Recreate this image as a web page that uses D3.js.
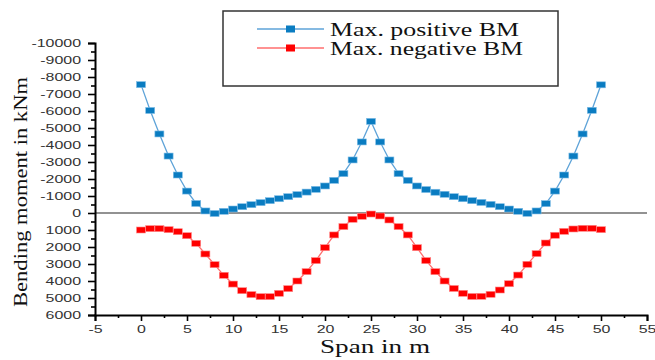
<!DOCTYPE html>
<html>
<head>
<meta charset="utf-8">
<script src="https://cdn.jsdelivr.net/npm/d3@7"></script>
<style>
  html, body { margin: 0; padding: 0; background: #fff; }
  svg { display: block; }
</style>
</head>
<body>
<svg id="chart" width="655" height="360"></svg>
<script>
// Span positions along the girder (m)
const span = [0, 1, 2, 3, 4, 5, 6, 7, 8, 9, 10, 11, 12, 13, 14, 15, 16, 17, 18, 19, 20,
  21, 22, 23, 24, 25, 26, 27, 28, 29, 30, 31, 32, 33, 34, 35, 36, 37, 38, 39, 40,
  41, 42, 43, 44, 45, 46, 47, 48, 49, 50];

// Max. positive bending moment envelope (kNm, sign convention: sagging negative)
const maxPositiveBM = [-7550, -6030, -4650, -3350, -2235, -1290, -560, -120, 30, -100, -235,
  -370, -490, -610, -725, -840, -960, -1080, -1230, -1390, -1590,
  -1920, -2315, -3120, -4180, -5390, -4180, -3120, -2315, -1920, -1590,
  -1380, -1220, -1100, -960, -840, -725, -620, -505, -370, -235,
  -100, 20, -120, -550, -1290, -2235, -3350, -4650, -6040, -7540];

// Max. negative bending moment envelope (kNm)
const maxNegativeBM = [1000, 920, 920, 980, 1100, 1335, 1785, 2410, 3040, 3665, 4180,
  4570, 4800, 4920, 4920, 4725, 4450, 4000, 3450, 2800, 2040,
  1290, 800, 370, 195, 60, 175, 410, 800, 1290, 2040,
  2800, 3450, 4000, 4440, 4725, 4910, 4900, 4785, 4530, 4160,
  3650, 3020, 2390, 1765, 1310, 1080, 940, 900, 900, 980];

const xTicks = [-5, 0, 5, 10, 15, 20, 25, 30, 35, 40, 45, 50, 55];
const yTicks = [-10000, -9000, -8000, -7000, -6000, -5000, -4000, -3000, -2000, -1000,
  0, 1000, 2000, 3000, 4000, 5000, 6000];
const xMinorTicks = [-2.5, 2.5, 7.5, 12.5, 17.5, 22.5, 27.5, 32.5, 37.5, 42.5, 47.5, 52.5];
const yMinorTicks = [-9500, -8500, -7500, -6500, -5500, -4500, -3500, -2500, -1500, -500,
  500, 1500, 2500, 3500, 4500, 5500];

const seriesNames = ["Max. positive BM", "Max. negative BM"];
const seriesData = [maxPositiveBM, maxNegativeBM];

const svg = d3.select("#chart");
const W = 655, H = 360;
svg.append("rect").attr("width", W).attr("height", H).attr("fill", "#fff");

const x = d3.scaleLinear().domain([-5, 55]).range([95, 647]);
const y = d3.scaleLinear().domain([-10000, 6000]).range([43, 315]);

const stretch = 1.45; // wide tick lettering
const tickFont = "'Liberation Sans', Arial, sans-serif";
const serif = "'Liberation Serif', 'Times New Roman', serif";
const plainNum = d => String(d); // ASCII hyphen for negatives

// zero reference line
svg.append("line")
  .attr("x1", x(-5)).attr("x2", x(55))
  .attr("y1", y(0)).attr("y2", y(0))
  .attr("stroke", "#6e6e6e").attr("stroke-width", 1.5);

// Series styling
const styles = [
  { line: "#5ea3d8", fill: "#0a7cc1", edge: "#7fbde6" },
  { line: "#ff6e6e", fill: "#ff0000", edge: "#ff8a8a" }
];

const lineGen = d3.line().x((d, i) => x(span[i])).y(d => y(d));

seriesData.forEach((vals, k) => {
  const st = styles[k];
  svg.append("path")
    .datum(vals)
    .attr("d", lineGen)
    .attr("fill", "none")
    .attr("stroke", st.line)
    .attr("stroke-width", 1.3);
  svg.append("g").selectAll("rect")
    .data(vals)
    .join("rect")
    .attr("x", (d, i) => x(span[i]) - 4.5)
    .attr("y", d => y(d) - 3)
    .attr("width", 9)
    .attr("height", 6)
    .attr("fill", st.fill)
    .attr("stroke", st.edge)
    .attr("stroke-width", 0.6);
});

// X axis
const xAxis = svg.append("g")
  .attr("transform", `translate(0,${y(6000)})`)
  .call(d3.axisBottom(x).tickValues(xTicks).tickSize(6).tickPadding(4).tickFormat(plainNum));
svg.append("g")
  .attr("transform", `translate(0,${y(6000)})`)
  .call(d3.axisBottom(x).tickValues(xMinorTicks).tickSize(3).tickFormat(""))
  .call(g => g.select(".domain").remove());

// Y axis
const yAxis = svg.append("g")
  .attr("transform", `translate(${x(-5)},0)`)
  .call(d3.axisLeft(y).tickValues(yTicks).tickSize(7).tickPadding(6).tickFormat(plainNum));
svg.append("g")
  .attr("transform", `translate(${x(-5)},0)`)
  .call(d3.axisLeft(y).tickValues(yMinorTicks).tickSize(4).tickFormat(""))
  .call(g => g.select(".domain").remove());

svg.selectAll(".domain").attr("stroke", "#000").attr("stroke-width", 2);
svg.selectAll(".tick line").attr("stroke", "#000").attr("stroke-width", 1.6);

xAxis.selectAll("text")
  .attr("font-family", tickFont).attr("font-size", 11).attr("fill", "#333")
  .attr("transform", `scale(${stretch},1)`);
yAxis.selectAll("text")
  .attr("font-family", tickFont).attr("font-size", 11).attr("fill", "#333")
  .attr("x", -14 / stretch)
  .attr("transform", `scale(${stretch},1)`);

// Axis titles
svg.append("text")
  .attr("x", 320).attr("y", 353)
  .attr("font-family", serif).attr("font-size", 19).attr("fill", "#111")
  .attr("textLength", 110).attr("lengthAdjust", "spacingAndGlyphs")
  .text("Span in m");

svg.append("text")
  .attr("transform", "translate(27,307) rotate(-90)")
  .attr("font-family", serif).attr("font-size", 19).attr("fill", "#111")
  .attr("textLength", 230).attr("lengthAdjust", "spacingAndGlyphs")
  .text("Bending moment in kNm");

// Legend
const legend = svg.append("g");
legend.append("rect")
  .attr("x", 223).attr("y", 11).attr("width", 335).attr("height", 75)
  .attr("fill", "#fff").attr("stroke", "#333").attr("stroke-width", 1.5);

const legendRows = [29, 48];
const legendLen = [189, 193];
seriesNames.forEach((name, k) => {
  const st = styles[k];
  const cy = legendRows[k];
  legend.append("line")
    .attr("x1", 257).attr("x2", 324).attr("y1", cy).attr("y2", cy)
    .attr("stroke", st.line).attr("stroke-width", 1.5);
  legend.append("rect")
    .attr("x", 290.5 - 4.5).attr("y", cy - 3.5).attr("width", 9).attr("height", 7)
    .attr("fill", st.fill);
  legend.append("text")
    .attr("x", 330).attr("y", cy + 7)
    .attr("font-family", serif).attr("font-size", 19).attr("fill", "#111")
    .attr("textLength", legendLen[k]).attr("lengthAdjust", "spacingAndGlyphs")
    .text(name);
});
</script>
</body>
</html>
